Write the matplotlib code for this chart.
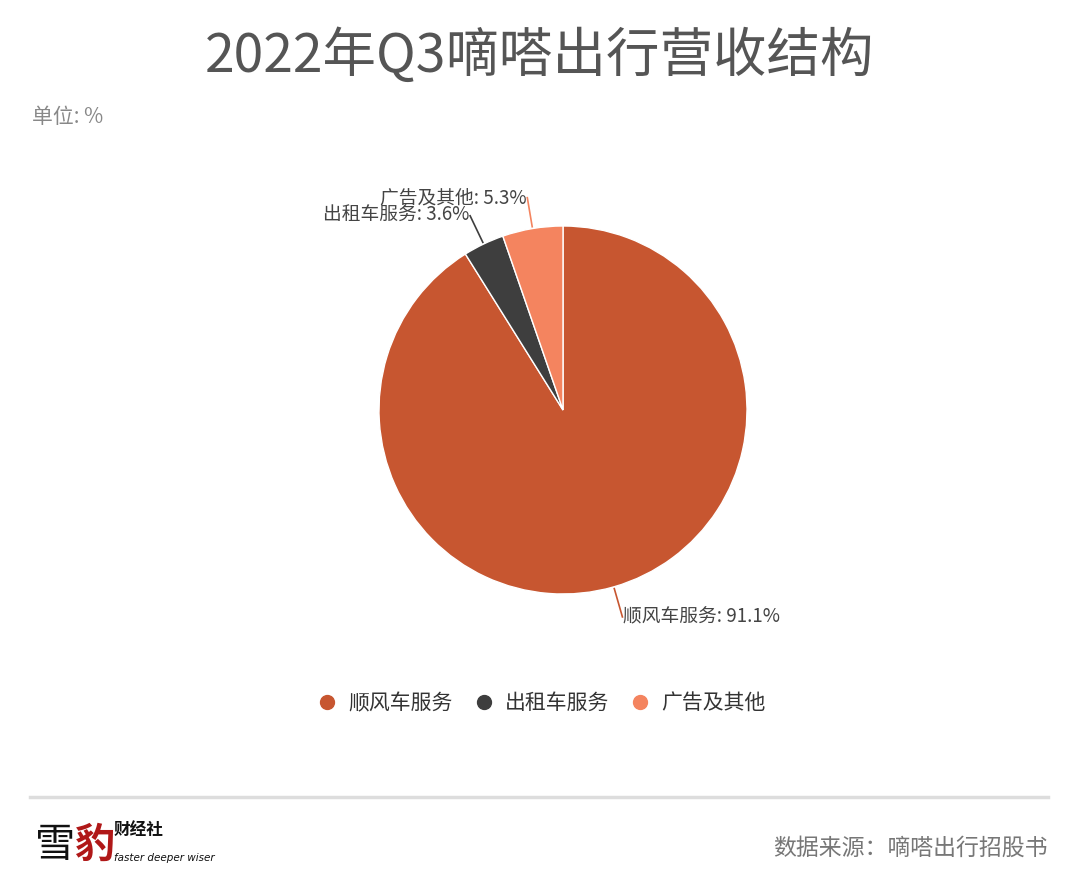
import numpy as np
import matplotlib
matplotlib.use('Agg')
import matplotlib.pyplot as plt
from matplotlib.lines import Line2D

plt.rcParams['font.family'] = ['Noto Sans CJK SC', 'DejaVu Sans']

# Data
labels = ['顺风车服务', '出租车服务', '广告及其他']
values = [91.1, 3.6, 5.3]
colors = ['#C75630', '#3E3E3E', '#F4845F']

title = '2022年Q3嘀嗒出行营收结构'
unit = '单位: %'
source = '数据来源：嘀嗒出行招股书'

fig = plt.figure(figsize=(10.8, 8.96), dpi=100)
fig.patch.set_facecolor('white')

# Pie axes: center (563, 410) px, radius 184 px
cx, cy, r = 563, 410, 184
ax = fig.add_axes([(cx - r) / 1080, (896 - cy - r) / 896, 2 * r / 1080, 2 * r / 896])
wedges, _ = ax.pie(values, colors=colors, startangle=90, counterclock=False,
                   wedgeprops=dict(edgecolor='white', linewidth=1))
ax.set_xlim(-1, 1)
ax.set_ylim(-1, 1)
ax.set_aspect('equal')
ax.axis('off')

# Labels with leader lines
for w, lab, val, col in zip(wedges, labels, values, colors):
    ang = np.deg2rad((w.theta1 + w.theta2) / 2)
    x, y = np.cos(ang), np.sin(ang)
    x0, y0 = 1.01 * x, 1.01 * y
    tx, ty = 1.17 * x, 1.17 * y
    ax.plot([x0, tx], [y0, ty], color=col, lw=1.2, clip_on=False)
    ha = 'left' if x > 0 else 'right'
    pad = 0.005 if x > 0 else -0.005
    ax.text(tx + pad, ty, f'{lab}: {val}%', ha=ha, va='center',
            fontsize=13.5, color='#444444', clip_on=False)

# Title and unit
fig.text(0.5, 1 - 56 / 896, title, ha='center', va='center', fontsize=38.5, color='#555555')
fig.text(32 / 1080, 1 - 117 / 896, unit, ha='left', va='center', fontsize=15, color='#888888')

# Legend
handles = [Line2D([0], [0], marker='o', color='none', markerfacecolor=c,
                  markeredgecolor=c, markersize=10) for c in colors]
fig.legend(handles, labels, loc='center', bbox_to_anchor=(0.5, 1 - 703 / 896),
           ncol=3, frameon=False, fontsize=15, handletextpad=0.4,
           columnspacing=0.9, labelcolor='#333333', handlelength=1.2)

# Footer line
fig.add_artist(Line2D([30 / 1080, 1048 / 1080], [1 - 797 / 896, 1 - 797 / 896],
                      color='#DDDDDD', lw=2.5, transform=fig.transFigure))

# Logo
fig.text(35 / 1080, 1 - 845 / 896, '雪', fontsize=29, color='#111111', ha='left', va='center')
fig.text(74 / 1080, 1 - 845 / 896, '豹', fontsize=29, color='#B01818', ha='left', va='center',
         fontweight='bold')
fig.text(114 / 1080, 1 - 830 / 896, '财经社', fontsize=12, color='#111111', ha='left', va='center',
         fontweight='bold')
fig.text(114 / 1080, 1 - 858 / 896, 'faster deeper wiser', fontsize=7.5, color='#111111',
         ha='left', va='center', style='italic', family='DejaVu Sans')

# Source
fig.text(1048 / 1080, 1 - 848 / 896, source, ha='right', va='center', fontsize=16.5, color='#777777')

fig.savefig('out.png', dpi=100, facecolor='white')
